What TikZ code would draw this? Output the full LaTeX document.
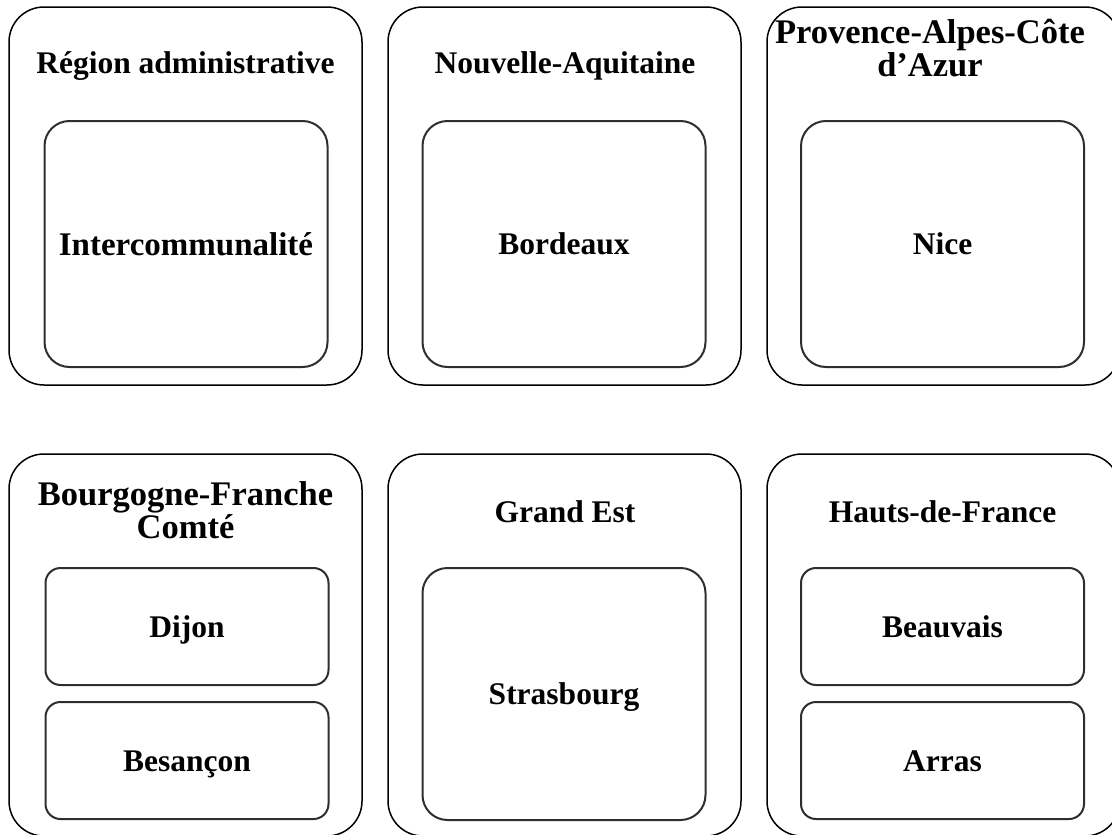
\documentclass[tikz,border=0pt]{standalone}
\usepackage{fontspec}
\setmainfont{Liberation Serif}
\begin{document}
\begin{tikzpicture}[x=1pt, y=-1pt,
  regionbox/.style={draw=black, line width=1.5pt, rounded corners=35pt,
    minimum width=353pt, inner sep=0pt},
  citybox/.style={draw=black!82, line width=2pt, minimum width=283pt,
    inner sep=0pt, text height=21pt, text depth=0pt,
    font=\fontsize{31.5}{33}\selectfont\bfseries},
  bigcity/.style={citybox, rounded corners=25pt},
  smallcity/.style={citybox, rounded corners=15pt, minimum height=117pt},
  title/.style={inner sep=0pt, text height=21pt, text depth=0pt,
    font=\fontsize{31.5}{33}\selectfont\bfseries},
  longtitle/.style={align=center, inner sep=0pt, anchor=base,
    font=\fontsize{34.5}{31}\selectfont\bfseries}
]
\path[use as bounding box, clip] (0,0) rectangle (1112,835);

% upper row of regions
\node[regionbox, minimum height=378pt] (r1) at (185.5,196) {};
\node[regionbox, minimum height=378pt] (r2) at (564.5,196) {};
\node[regionbox, minimum height=378pt] (r3) at (943.5,196) {};

\node[title] (t1) at (185.5,63) {Région administrative};
\node[title] (t2) at (565,63) {Nouvelle-Aquitaine};
% the base anchor of a two-line title sits on its last line
\node[longtitle, font=\fontsize{34.5}{33}\selectfont\bfseries] (t3)
  at (930,76) {Provence-Alpes-Côte\\d’Azur};

\node[bigcity, minimum height=246pt, text height=22pt,
  font=\fontsize{33}{33}\selectfont\bfseries] (c1) at (186,244) {Intercommunalité};
\node[bigcity, minimum height=246pt] (c2) at (564,244) {Bordeaux};
\node[bigcity, minimum height=246pt] (c3) at (942.5,244) {Nice};

% lower row of regions
\node[regionbox, minimum height=382pt] (r4) at (185.5,645) {};
\node[regionbox, minimum height=382pt] (r5) at (564.5,645) {};
\node[regionbox, minimum height=382pt] (r6) at (943.5,645) {};

\node[longtitle] (t4) at (185.5,538) {Bourgogne-Franche\\Comté};
\node[title] (t5) at (565,512) {Grand Est};
\node[title] (t6) at (942.5,512) {Hauts-de-France};

\node[smallcity] (c4) at (187,626.5) {Dijon};
\node[smallcity] (c5) at (187,760.5) {Besançon};
\node[bigcity, minimum height=252pt] (c6) at (564,694) {Strasbourg};
\node[smallcity] (c7) at (942.5,626.5) {Beauvais};
\node[smallcity] (c8) at (942.5,760.5) {Arras};
\end{tikzpicture}
\end{document}
